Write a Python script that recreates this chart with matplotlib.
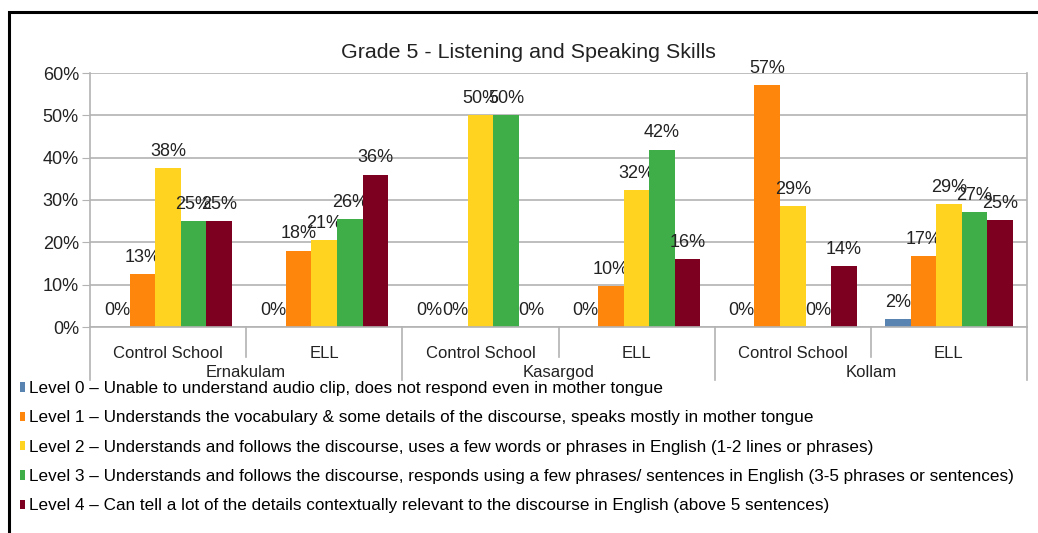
import math
import matplotlib
matplotlib.use("Agg")
import matplotlib.pyplot as plt
from matplotlib.patches import Patch, Rectangle
import matplotlib.transforms as mtransforms

plt.rcParams['font.family'] = ['Liberation Sans', 'DejaVu Sans']

title = "Grade 5 - Listening and Speaking Skills"
categories = ["Control School", "ELL", "Control School", "ELL", "Control School", "ELL"]
districts = ["Ernakulam", "Kasargod", "Kollam"]
series_names = [
    "Level 0 \u2013 Unable to understand audio clip, does not respond even in mother tongue",
    "Level 1 \u2013 Understands the vocabulary & some details of the discourse, speaks mostly in mother tongue",
    "Level 2 \u2013 Understands and follows the discourse, uses a few words or phrases in English (1-2 lines or phrases)",
    "Level 3 \u2013 Understands and follows the discourse, responds using a few phrases/ sentences in English (3-5 phrases or sentences)",
    "Level 4 \u2013 Can tell a lot of the details contextually relevant to the discourse in English (above 5 sentences)",
]
level0 = [0, 0, 0, 0, 0, 1.9]
level1 = [12.5, 18.0, 0, 9.7, 57.1, 16.7]
level2 = [37.5, 20.5, 50, 32.3, 28.6, 29.0]
level3 = [25.0, 25.5, 50, 41.9, 0, 27.1]
level4 = [25.0, 36.0, 0, 16.1, 14.3, 25.2]
series = [level0, level1, level2, level3, level4]
colors = ["#5983b0", "#ff860d", "#ffd320", "#3fae49", "#7e0021"]
yticks = [0, 10, 20, 30, 40, 50, 60]

W, H = 1038, 533
fig = plt.figure(figsize=(W / 100, H / 100), dpi=100)
ax = fig.add_axes([90 / W, (H - 327) / H, (1027 - 90) / W, (327 - 73) / H])

bw = 0.1635
n = len(series)
xs = list(range(len(categories)))
for i, (vals, c) in enumerate(zip(series, colors)):
    pos = [x + (i - (n - 1) / 2) * bw for x in xs]
    bars = ax.bar(pos, vals, width=bw, color=c, zorder=3)
    labels = ["%d%%" % math.floor(v + 0.5) for v in vals]
    ax.bar_label(bars, labels=labels, padding=6, fontsize=13, color="#222222")

ax.set_xlim(-0.5, len(categories) - 0.5)
ax.set_ylim(0, 60)
ax.set_yticks(yticks)
ax.set_yticklabels(["%d%%" % t for t in yticks], fontsize=13, color="#222222")
ax.tick_params(axis='y', length=6, color="#b3b3b3", pad=2)
ax.yaxis.grid(True, color="#b3b3b3", lw=1.2, zorder=0)
ax.set_xticks(xs)
ax.set_xticklabels(categories, fontsize=12, color="#222222")
ax.tick_params(axis='x', length=0, pad=14)
for s in ["top", "bottom"]:
    ax.spines[s].set_visible(False)
for s in ["left", "right"]:
    ax.spines[s].set_color("#b3b3b3")
    ax.spines[s].set_linewidth(1.2)

trans = mtransforms.blended_transform_factory(ax.transData, ax.transAxes)
ax.plot([-0.5, len(categories) - 0.5], [0, 0], transform=trans, color="#b3b3b3", lw=1.2, clip_on=False, zorder=4)
for k in range(len(categories) + 1):
    xb = k - 0.5
    y0 = -0.209 if k % 2 == 0 else -0.118
    ax.plot([xb, xb], [0, y0], transform=trans, color="#b3b3b3", lw=1.2, clip_on=False)
for j, d in enumerate(districts):
    ax.text(2 * j + 0.5, -0.18, d, transform=trans, ha='center', va='center', fontsize=12, color="#222222")

fig.text(528 / W, 1 - 53 / H, title, ha='center', va='center', fontsize=15.4, color="#222222")

handles = [Patch(facecolor=c, edgecolor='none') for c in colors]
fig.legend(handles, series_names, loc='upper left', bbox_to_anchor=(20 / W, 1 - 381 / H),
           frameon=False, prop={'size': 12.3}, handlelength=0.3, handleheight=0.45,
           handletextpad=0.25, labelspacing=0.84, borderaxespad=0, borderpad=0)

fig.patches.append(Rectangle((9 / W, -0.1), 1.2, 1 - 12 / H + 0.1, transform=fig.transFigure,
                             fill=False, edgecolor='black', lw=2.2))

fig.savefig("out.png", dpi=100)
